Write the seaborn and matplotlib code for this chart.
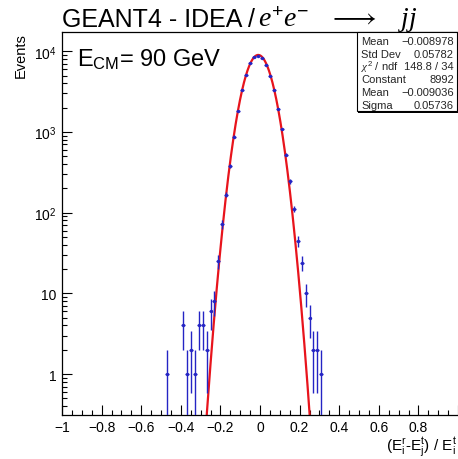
import numpy as np
import matplotlib
matplotlib.use("Agg")
import matplotlib.pyplot as plt
from matplotlib.patches import Rectangle
from matplotlib.ticker import FixedLocator, FixedFormatter, MultipleLocator, NullFormatter
import seaborn as sns

# Histogram content: bin centres (bin width 0.02) and event counts
bin_width = 0.02
bin_centers = [-0.47, -0.39, -0.37, -0.35, -0.33, -0.31, -0.29, -0.27, -0.25, -0.23, -0.21,
               -0.19, -0.17, -0.15, -0.13, -0.11, -0.09, -0.07, -0.05, -0.03, -0.01,
               0.01, 0.03, 0.05, 0.07, 0.09, 0.11, 0.13, 0.15, 0.17,
               0.19, 0.21, 0.23, 0.25, 0.27, 0.29, 0.31]
counts = [1, 4, 1, 2, 1, 4, 4, 2, 6, 8, 25,
          72, 167, 376, 875, 1820, 3315, 5130, 7100, 8430, 8820,
          8260, 6760, 4900, 3315, 1930, 1080, 524, 245, 111,
          44, 24, 10, 5, 2, 2, 1]

# Gaussian fit parameters and statistics
fit_constant = 8992
fit_mean = -0.009036
fit_sigma = 0.05736
stats_labels = ["Mean", "Std Dev", r"$\chi^{2}$ / ndf", "Constant", "Mean", "Sigma"]
stats_values = ["\u22120.008978", "0.05782", "148.8 / 34", "8992", "\u22120.009036", "0.05736"]

x_ticks = [-1.0, -0.8, -0.6, -0.4, -0.2, 0.0, 0.2, 0.4, 0.6, 0.8, 1.0]
x_tick_labels = ["\u22121", "\u22120.8", "\u22120.6", "\u22120.4", "\u22120.2", "0",
                 "0.2", "0.4", "0.6", "0.8", ""]
y_ticks = [1, 10, 100, 1000, 10000]
y_tick_labels = ["1", "10", "$10^{2}$", "$10^{3}$", "$10^{4}$"]

sns.set_theme(style="ticks")
plt.rcParams["font.family"] = ["Liberation Sans", "DejaVu Sans"]
plt.rcParams["mathtext.fontset"] = "custom"
plt.rcParams["mathtext.rm"] = "Liberation Sans"
plt.rcParams["mathtext.sf"] = "Liberation Sans"
plt.rcParams["mathtext.it"] = "Liberation Serif:italic"
plt.rcParams["axes.unicode_minus"] = True

W, H = 458, 460
fig = plt.figure(figsize=(W / 100, H / 100), dpi=100)
fig.patch.set_facecolor("white")


def fx(px):
    return px / W


def fy(py):
    return 1 - py / H


ax = fig.add_axes([fx(62), fy(415.6), 396 / W, (415.6 - 33) / H])
ax.set_facecolor("white")

# Fit curve
xs = np.linspace(-1, 1, 2001)
ys = fit_constant * np.exp(-0.5 * ((xs - fit_mean) / fit_sigma) ** 2)
sns.lineplot(x=xs, y=ys, color="#e8141c", linewidth=1.6, ax=ax, zorder=2)

# Data points with Poisson errors
c = np.array(counts, dtype=float)
err = np.sqrt(c)
err_low = np.minimum(err, c * 0.9999)
blue = "#2424c4"
ax.errorbar(bin_centers, c, yerr=[err_low, err], xerr=bin_width / 2,
            fmt="none", ecolor=blue, elinewidth=1.0, capsize=0, zorder=3)
sns.scatterplot(x=bin_centers, y=c, color=blue, s=6, linewidth=0, ax=ax, zorder=4)

ax.set_yscale("log")
ax.set_xlim(-1, 1)
ax.set_ylim(0.314, 17300)

ax.xaxis.set_major_locator(FixedLocator(x_ticks))
ax.xaxis.set_major_formatter(FixedFormatter(x_tick_labels))
ax.xaxis.set_minor_locator(MultipleLocator(0.05))
ax.yaxis.set_major_locator(FixedLocator(y_ticks))
ax.yaxis.set_major_formatter(FixedFormatter(y_tick_labels))
minor_y = [m * 10 ** d for d in range(-1, 5) for m in range(2, 10)]
ax.yaxis.set_minor_locator(FixedLocator(minor_y))
ax.yaxis.set_minor_formatter(NullFormatter())

ax.tick_params(axis="both", which="major", direction="in", length=7, width=0.8,
               color="black", labelsize=10, labelcolor="black", pad=4)
ax.tick_params(axis="both", which="minor", direction="in", length=3.5, width=0.8,
               color="black")
for s in ["left", "bottom", "top"]:
    ax.spines[s].set_visible(True)
    ax.spines[s].set_color("black")
    ax.spines[s].set_linewidth(0.9)
ax.spines["right"].set_visible(False)
ax.set_xlabel("")
ax.set_ylabel("")

# Titles and labels
fig.text(fx(62), fy(27), "GEANT4 - IDEA /", fontsize=18, va="baseline", ha="left",
         color="black")
fig.text(fx(258), fy(27), r"$e^{+}e^{-}\quad\longrightarrow\quad jj$", fontsize=20,
         va="baseline", ha="left", color="black")
fig.text(fx(77), fy(67), r"E$_{\rm CM}$= 90 GeV", fontsize=17, va="baseline",
         ha="left", color="black")
fig.text(fx(21), fy(33), "Events", rotation=90, fontsize=10.5, va="top", ha="center",
         color="black")
fig.text(fx(457), fy(451), r"(E$_{\rm i}^{\rm r}$-E$_{\rm j}^{\rm t}$) / E$_{\rm i}^{\rm t}$",
         fontsize=11, va="baseline", ha="right", color="black")

# Statistics box
box_l, box_r, box_t, box_b = 356.5, 456.5, 33, 112
fig.add_artist(Rectangle((fx(box_l + 1.5), fy(box_b + 1.5)), (box_r - box_l) / W,
                         (box_b - box_t) / H, transform=fig.transFigure,
                         facecolor="black", edgecolor="none", zorder=9))
fig.add_artist(Rectangle((fx(box_l), fy(box_b)), (box_r - box_l) / W,
                         (box_b - box_t) / H, transform=fig.transFigure,
                         facecolor="white", edgecolor="black", linewidth=0.8, zorder=10))
row_y = [41.7, 54.6, 67.5, 80.4, 93.3, 106.2]
for lab, val, yy in zip(stats_labels, stats_values, row_y):
    fig.text(fx(361), fy(yy), lab, fontsize=8, va="center", ha="left", zorder=11)
    fig.text(fx(454), fy(yy), val, fontsize=8, va="center", ha="right", zorder=11)

fig.savefig("out.png", dpi=100, facecolor="white")
